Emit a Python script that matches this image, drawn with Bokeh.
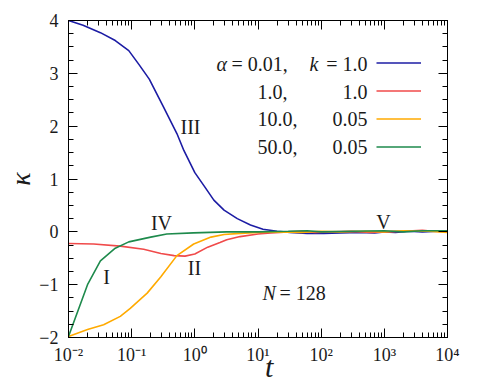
from bokeh.plotting import figure
from bokeh.models import LogAxis, LinearAxis, FixedTicker, Label, Legend, LegendItem
from bokeh.core.properties import value
from bokeh.embed import file_html
from bokeh.resources import INLINE

# ---------------- data ----------------
blue_t = [0.01, 0.017, 0.032, 0.055, 0.09, 0.13, 0.19, 0.32, 0.52, 0.67, 1.0, 1.4, 2.0, 2.9, 4.7,
          7.6, 12, 20, 32, 60, 110, 200, 400, 700, 1000, 1500, 2500, 4000, 7000, 10000]
blue_k = [4.00, 3.91, 3.77, 3.62, 3.43, 3.17, 2.89, 2.36, 1.86, 1.54, 1.12, 0.87, 0.60, 0.41, 0.25,
          0.13, 0.05, 0.01, -0.01, -0.03, -0.03, -0.02, -0.01, -0.02, 0.00, -0.01, 0.01, 0.00, 0.01, 0.01]

red_t = [0.01, 0.025, 0.066, 0.155, 0.29, 0.47, 0.7, 1.0, 1.6, 2.5, 3.2, 5.2, 10, 16, 30, 50, 80,
         150, 300, 600, 1000, 2000, 4000, 6000, 10000]
red_k = [-0.22, -0.23, -0.27, -0.33, -0.41, -0.45, -0.46, -0.42, -0.29, -0.20, -0.15, -0.09, -0.04,
         -0.02, 0.00, 0.01, -0.01, 0.00, 0.01, -0.01, 0.00, 0.01, 0.03, 0.01, 0.00]

orange_t = [0.01, 0.02, 0.036, 0.066, 0.095, 0.176, 0.29, 0.52, 0.96, 1.8, 2.9, 5.2, 10, 20, 50,
            100, 200, 500, 1000, 2000, 5000, 10000]
orange_k = [-1.98, -1.85, -1.76, -1.60, -1.45, -1.16, -0.85, -0.45, -0.23, -0.10, -0.05, -0.03,
            -0.01, 0.00, -0.01, 0.01, 0.00, 0.01, 0.00, 0.02, 0.01, -0.01]

green_t = [0.01, 0.02, 0.032, 0.055, 0.09, 0.2, 0.36, 0.95, 3.2, 10, 30, 60, 100, 300, 1000,
           2000, 4000, 10000]
green_k = [-1.98, -1.00, -0.55, -0.31, -0.19, -0.10, -0.04, -0.02, 0.00, 0.00, 0.01, 0.02, 0.00,
           0.01, 0.02, 0.00, 0.02, 0.02]

alphas = ["α", "1.0,", "10.0,", "50.0,"]
ks = ["1.0", "1.0", "0.05", "0.05"]

xticks = [1e-2, 1e-1, 1e0, 1e1, 1e2, 1e3, 1e4]
xtick_labels = ["10⁻²", "10⁻¹", "10⁰", "10¹", "10²", "10³", "10⁴"]
yticks = [-2, -1, 0, 1, 2, 3, 4]
ytick_labels = ["−2", "−1", "0", "1", "2", "3", "4"]

numerals = ["I", "II", "III", "IV", "V"]

# ---------------- styling ----------------
FONT = "Liberation Serif"
TXT = "#1a1a1a"
colors = ["#1c1ca4", "#f04a4a", "#ffaa00", "#1e8a4c"]

xminor = [m * 10.0 ** k for k in range(-2, 4) for m in range(2, 10)]
yminor = [i * 0.25 for i in range(-8, 17) if i % 4]

# page-pixel -> data helpers (layout only)
X0, X1, Y0, Y1 = 68.0, 447.0, 20.0, 337.0
def dx(px):
    return 10 ** ((px - X0) / (X1 - X0) * 6 - 2)
def dy(py):
    return 4 - (py - Y0) / (Y1 - Y0) * 6

W, H = 478, 386
p = figure(width=W, height=H, x_axis_type="log", x_range=(1e-2, 1e4), y_range=(-2, 4),
           output_backend="svg", toolbar_location=None,
           min_border_left=int(X0), min_border_right=W - int(X1), min_border_top=int(Y0),
           min_border_bottom=H - int(Y1))
p.grid.visible = False
p.outline_line_color = "black"
p.outline_line_width = 1
p.background_fill_color = "white"

p.add_layout(LogAxis(), "above")
p.add_layout(LinearAxis(), "right")

xt = FixedTicker(ticks=xticks, minor_ticks=xminor)
yt = FixedTicker(ticks=yticks, minor_ticks=yminor)
for ax in p.xaxis:
    ax.ticker = xt
for ax in p.yaxis:
    ax.ticker = yt

for ax in p.axis:
    ax.axis_line_color = "black"
    ax.major_tick_line_color = "black"
    ax.minor_tick_line_color = "black"
    ax.major_tick_in = 9
    ax.major_tick_out = 0
    ax.minor_tick_in = 5
    ax.minor_tick_out = 0
    ax.major_label_text_font = FONT
    ax.major_label_text_font_size = "18px"
    ax.major_label_text_color = TXT

xax = p.below[0]
xax.major_label_overrides = dict(zip(xticks, xtick_labels))
xax.major_label_standoff = 7
xax.axis_label = "\u00a0\u00a0\u00a0t"
xax.axis_label_text_font = FONT
xax.axis_label_text_font_style = "italic"
xax.axis_label_text_font_size = "30px"
xax.axis_label_text_color = TXT
xax.axis_label_standoff = -18

yax = p.left[0]
yax.major_label_overrides = dict(zip(yticks, ytick_labels))
yax.major_label_standoff = 10
yax.axis_label = "κ"
yax.axis_label_text_font = FONT
yax.axis_label_text_font_style = "italic"
yax.axis_label_text_font_size = "28px"
yax.axis_label_text_color = TXT
yax.axis_label_standoff = 0
for ax in (p.above[0], p.right[0]):
    ax.major_label_text_font_size = "5px"
    ax.major_label_text_alpha = 0
    ax.major_label_standoff = 0

series = [(blue_t, blue_k), (red_t, red_k), (orange_t, orange_k), (green_t, green_k)]
rends = []
for (t, k), c in zip(series, colors):
    rends.append(p.line(t, k, line_color=c, line_width=1.6))

# legend: line samples (labels drawn as separate texts on their left)
leg = Legend(items=[LegendItem(label=value(" "), renderers=[r]) for r in rends],
             location=(308, 178), glyph_width=45, glyph_height=25, label_height=25,
             label_standoff=2, spacing=3, padding=0,
             border_line_alpha=0, background_fill_alpha=0, label_text_font_size="8px")
p.add_layout(leg)

def lab(text, px, py, size="20px", align="left", italic=False, baseline="middle"):
    p.add_layout(Label(x=dx(px), y=dy(py), text=text, text_font=FONT, text_font_size=size,
                       text_align=align, text_baseline=baseline, text_color=TXT,
                       text_font_style="italic" if italic else "normal"))

rows = [63, 91, 118, 146]
lab(alphas[0], 216, rows[0], italic=True)
lab("= 0.01,", 231, rows[0])
lab("k", 309, rows[0], italic=True)
lab("= " + ks[0], 367, rows[0], align="right")
for i in range(1, 4):
    lab(alphas[i], 257, rows[i])
    lab(ks[i], 367, rows[i], align="right")

# curve annotations
lab(numerals[0], 106, 276, align="center")
lab(numerals[1], 194, 267, align="center")
lab(numerals[2], 190, 126, align="center")
lab(numerals[3], 161, 222, align="center")
lab(numerals[4], 383, 221, align="center")
lab("N", 262, 292, italic=True)
lab("= 128", 279, 292)

open("out.html", "w").write(file_html(p, INLINE))
